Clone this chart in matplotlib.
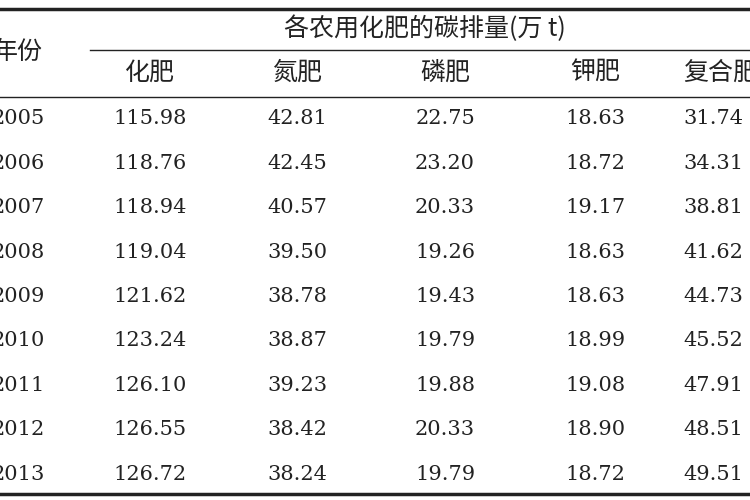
import matplotlib.pyplot as plt

years = ['2005', '2006', '2007', '2008', '2009', '2010', '2011', '2012', '2013']
huafei = ['115.98', '118.76', '118.94', '119.04', '121.62', '123.24', '126.10', '126.55', '126.72']
danfei = ['42.81', '42.45', '40.57', '39.50', '38.78', '38.87', '39.23', '38.42', '38.24']
linfei = ['22.75', '23.20', '20.33', '19.26', '19.43', '19.79', '19.88', '20.33', '19.79']
jiafei = ['18.63', '18.72', '19.17', '18.63', '18.63', '18.99', '19.08', '18.90', '18.72']
fuhe = ['31.74', '34.31', '38.81', '41.62', '44.73', '45.52', '47.91', '48.51', '49.51']

cols = ['化肥', '氮肥', '磷肥', '钾肥']
col_x = [150, 297, 445, 595]
fuhe_x = 683

cjk = ['Noto Sans CJK SC', 'DejaVu Sans']
num = 'DejaVu Serif'
color = '#222222'

fig = plt.figure(figsize=(7.5, 5), dpi=100)
ax = fig.add_axes([0, 0, 1, 1])
ax.set_xlim(0, 750)
ax.set_ylim(500, 0)
ax.axis('off')

# rules
ax.plot([0, 750], [9, 9], color=color, lw=2.5)
ax.plot([90, 750], [50, 50], color=color, lw=1)
ax.plot([0, 750], [97, 97], color=color, lw=1)
ax.plot([0, 750], [494, 494], color=color, lw=2.5)

ax.text(18, 52, '年份', family=cjk, fontsize=18, ha='center', va='center', color=color)
ax.text(425, 29, '各农用化肥的碳排量(万 t)', family=cjk, fontsize=18, ha='center', va='center', color=color)
for c, x in zip(cols, col_x):
    ax.text(x, 73, c, family=cjk, fontsize=18, ha='center', va='center', color=color)
ax.text(fuhe_x, 73, '复合肥', family=cjk, fontsize=18, ha='left', va='center', color=color)

row_y = [119 + i * 44.4 for i in range(len(years))]
for i, y in enumerate(row_y):
    ax.text(45, y, years[i], family=num, fontsize=15, ha='right', va='center', color=color)
    for vals, x in zip([huafei, danfei, linfei, jiafei], col_x):
        ax.text(x, y, vals[i], family=num, fontsize=15, ha='center', va='center', color=color)
    ax.text(fuhe_x, y, fuhe[i], family=num, fontsize=15, ha='left', va='center', color=color)

fig.savefig('out.png', dpi=100)
